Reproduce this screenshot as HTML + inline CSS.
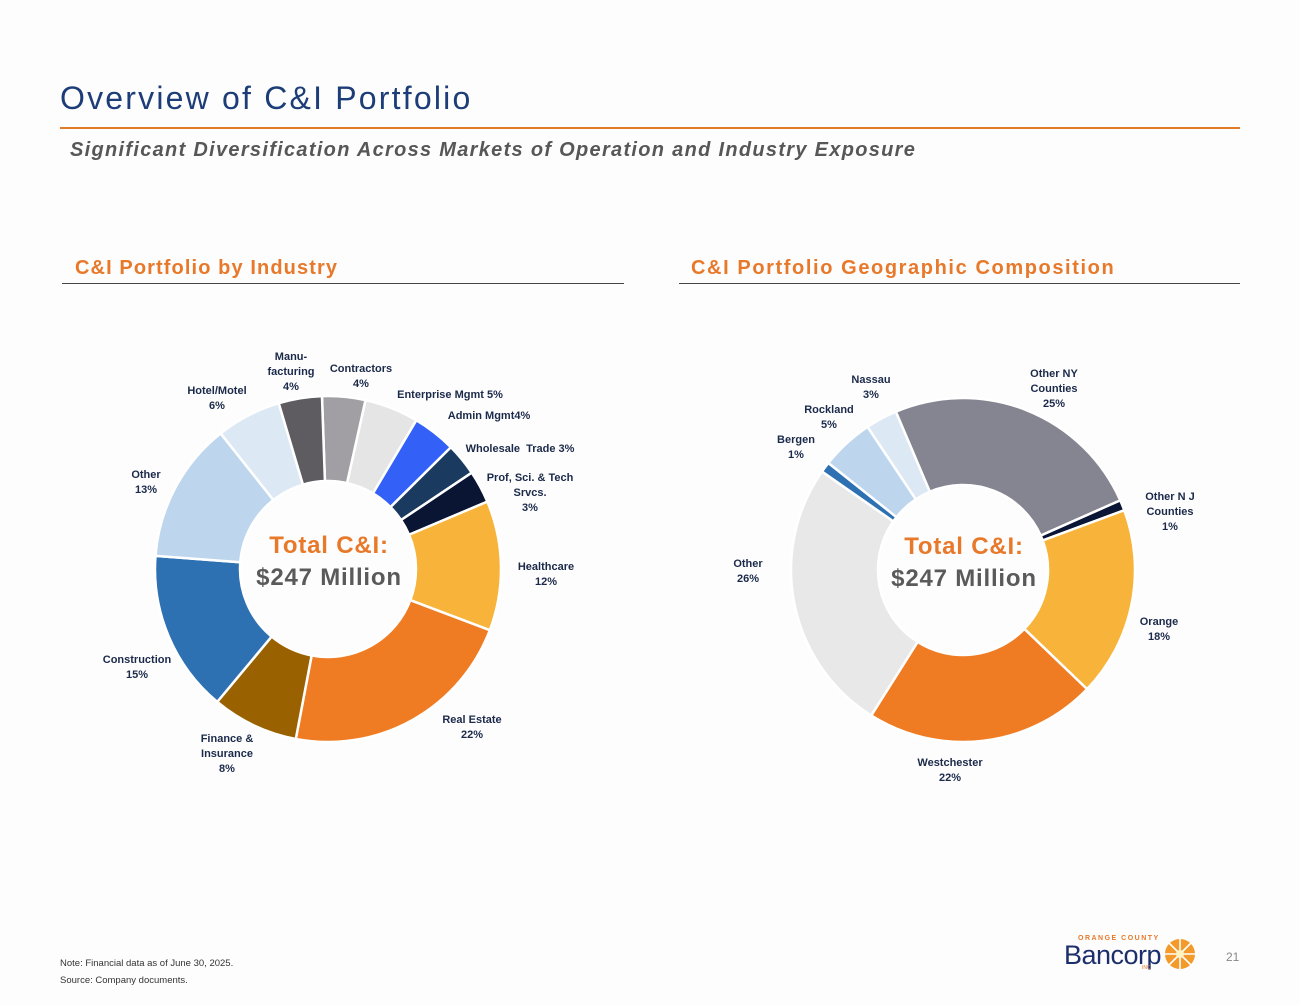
<!DOCTYPE html>
<html><head><meta charset="utf-8">
<style>
body{margin:0;background:#fff;}
#page{position:relative;width:1300px;height:1005px;background:#fdfdfd;font-family:"Liberation Sans",sans-serif;overflow:hidden;}
.abs{position:absolute;}
.lbl{position:absolute;font-size:11px;font-weight:bold;color:#1b2a4a;text-align:center;line-height:15px;white-space:pre;transform:translateX(-50%);}
</style></head>
<body>
<div id="page">
  <div class="abs" style="left:60px;top:80px;font-size:32px;color:#1c3d78;letter-spacing:2.2px;">Overview of C&amp;I Portfolio</div>
  <div class="abs" style="left:60px;top:127px;width:1180px;height:2px;background:#e07b2a;"></div>
  <div class="abs" style="left:70px;top:139px;font-size:20px;font-style:italic;font-weight:bold;color:#575757;letter-spacing:1.3px;">Significant Diversification Across Markets of Operation and Industry Exposure</div>

  <div class="abs" style="left:75px;top:257px;font-size:20px;font-weight:bold;color:#e8792a;letter-spacing:1.1px;">C&amp;I Portfolio by Industry</div>
  <div class="abs" style="left:62px;top:283px;width:562px;height:1px;background:#444;"></div>
  <div class="abs" style="left:691px;top:257px;font-size:20px;font-weight:bold;color:#e8792a;letter-spacing:1.6px;">C&amp;I Portfolio Geographic Composition</div>
  <div class="abs" style="left:679px;top:283px;width:561px;height:1px;background:#444;"></div>

  <svg id="charts" class="abs" style="left:0;top:0" width="1300" height="1005"></svg>

  <div class="abs" style="left:60px;top:955px;font-size:9.5px;color:#333;line-height:17px;">Note: Financial data as of June 30, 2025.<br>Source: Company documents.</div>
  <div class="abs" style="left:1064px;top:935px;width:135px;height:40px;">
    <div style="position:absolute;left:14px;top:0;font-size:7px;font-weight:bold;color:#e8792a;letter-spacing:1.5px;">ORANGE COUNTY</div>
    <div style="position:absolute;left:0;top:5px;font-size:27px;color:#1c2f6b;letter-spacing:-0.5px;">Bancorp</div>
    <div style="position:absolute;left:78px;top:30px;font-size:5px;color:#e8792a;">INC</div>
    <svg style="position:absolute;left:100px;top:3px" width="32" height="32" viewBox="-16 -16 32 32">
      <circle r="15" fill="#f39a2b"/>
      <g stroke="#fff" stroke-width="1.6">
        <line x1="-15" y1="0" x2="15" y2="0"/><line x1="0" y1="-15" x2="0" y2="15"/>
        <line x1="-11" y1="-11" x2="11" y2="11"/><line x1="-11" y1="11" x2="11" y2="-11"/>
      </g>
      <circle r="4" fill="#fff3c0"/>
    </svg>
  </div>
  <div class="abs" style="left:1226px;top:950px;font-size:12px;color:#888;">21</div>
</div>
<script>
// Industry donut data
const industryCategories = ["Contractors","Enterprise Mgmt","Admin Mgmt","Wholesale  Trade","Prof, Sci. & Tech Srvcs.","Healthcare","Real Estate","Finance & Insurance","Construction","Other","Hotel/Motel","Manu-facturing"];
const industryValues = [4,5,4,3,3,12,22,8,15,13,6,4];
const industryColors = ["#a19fa4","#e5e5e5","#3360f6","#1b3a5f","#0a1533","#f8b43a","#ef7b22","#9a6100","#2e71b3","#bdd6ee","#dde8f5","#5e5c61"];
// Geographic donut data
const geoCategories = ["Other NY Counties","Other NJ Counties","Orange","Westchester","Other","Bergen","Rockland","Nassau"];
const geoValues = [25,1,18,22,26,1,5,3];
const geoColors = ["#858592","#0b1535","#f8b43a","#ef7b22","#e8e8e8","#2e71b3","#bdd6ee","#dde8f5"];

const NS="http://www.w3.org/2000/svg";
const svg=document.getElementById('charts');
const page=document.getElementById('page');

function polar(cx,cy,r,a){const t=(a-90)*Math.PI/180;return [cx+r*Math.cos(t),cy+r*Math.sin(t)];}
function drawDonut(name,cx,cy,ro,ri,startDeg,values,colors,cats){
  const total=values.reduce((a,b)=>a+b,0);
  let a=startDeg;
  values.forEach((v,i)=>{
    const sweep=v/total*360, b=a+sweep;
    const [x1,y1]=polar(cx,cy,ro,a),[x2,y2]=polar(cx,cy,ro,b);
    const [x3,y3]=polar(cx,cy,ri,b),[x4,y4]=polar(cx,cy,ri,a);
    const lg=sweep>180?1:0;
    const p=document.createElementNS(NS,'path');
    p.setAttribute('d',`M${x1},${y1}A${ro},${ro} 0 ${lg} 1 ${x2},${y2}L${x3},${y3}A${ri},${ri} 0 ${lg} 0 ${x4},${y4}Z`);
    p.setAttribute('fill',colors[i]);
    p.setAttribute('stroke','#fff');
    p.setAttribute('stroke-width','2.5');
    
    
    svg.appendChild(p);
    a=b;
  });
}
drawDonut('industry',328,569,173,88,-2,industryValues,industryColors,industryCategories);
drawDonut('geo',963,570,172,85,-23,geoValues,geoColors,geoCategories);

function centerText(name,cx,cy){
  const d=document.createElement('div');
  
  
  d.style.cssText=`position:absolute;left:${cx}px;top:${cy-36}px;transform:translateX(-50%);text-align:center;font-weight:bold;font-size:24px;line-height:32px;white-space:nowrap;letter-spacing:0.8px;`;
  d.innerHTML='<span style="color:#e8792a">Total C&amp;I:</span><br><span style="color:#5a5a5a">$247 Million</span>';
  page.appendChild(d);
}
centerText('industry-total-label',329,566);
centerText('geo-total-label',964,567);

// label layout (pixel anchors, separate from data)
const industryLabelLayout=[[361,362,"Contractors|{v}"],[450,388,"Enterprise Mgmt {v}"],[489,409,"Admin Mgmt{v}"],[520,442,"Wholesale  Trade {v}"],[530,471,"Prof, Sci. & Tech|Srvcs.|{v}"],[546,560,"Healthcare|{v}"],[472,713,"Real Estate|{v}"],[227,732,"Finance &|Insurance|{v}"],[137,653,"Construction|{v}"],[146,468,"Other|{v}"],[217,384,"Hotel/Motel|{v}"],[291,350,"Manu-|facturing|{v}"]];
const geoLabelLayout=[[1054,367,"Other NY|Counties|{v}"],[1170,490,"Other N J|Counties|{v}"],[1159,615,"Orange|{v}"],[950,756,"Westchester|{v}"],[748,557,"Other|{v}"],[796,433,"Bergen|{v}"],[829,403,"Rockland|{v}"],[871,373,"Nassau|{v}"]];
function labels(name,layout,values){
  layout.forEach((l,i)=>{
    const d=document.createElement('div');
    d.className='lbl';
    
    
    d.style.left=l[0]+'px';d.style.top=l[1]+'px';
    d.innerHTML=l[2].replace('{v}',values[i]+'%').replace(/&(?!amp;)/g,'&amp;').split('|').join('<br>');
    page.appendChild(d);
  });
}
labels('industry',industryLabelLayout,industryValues);
labels('geo',geoLabelLayout,geoValues);
</script>
</body></html>
